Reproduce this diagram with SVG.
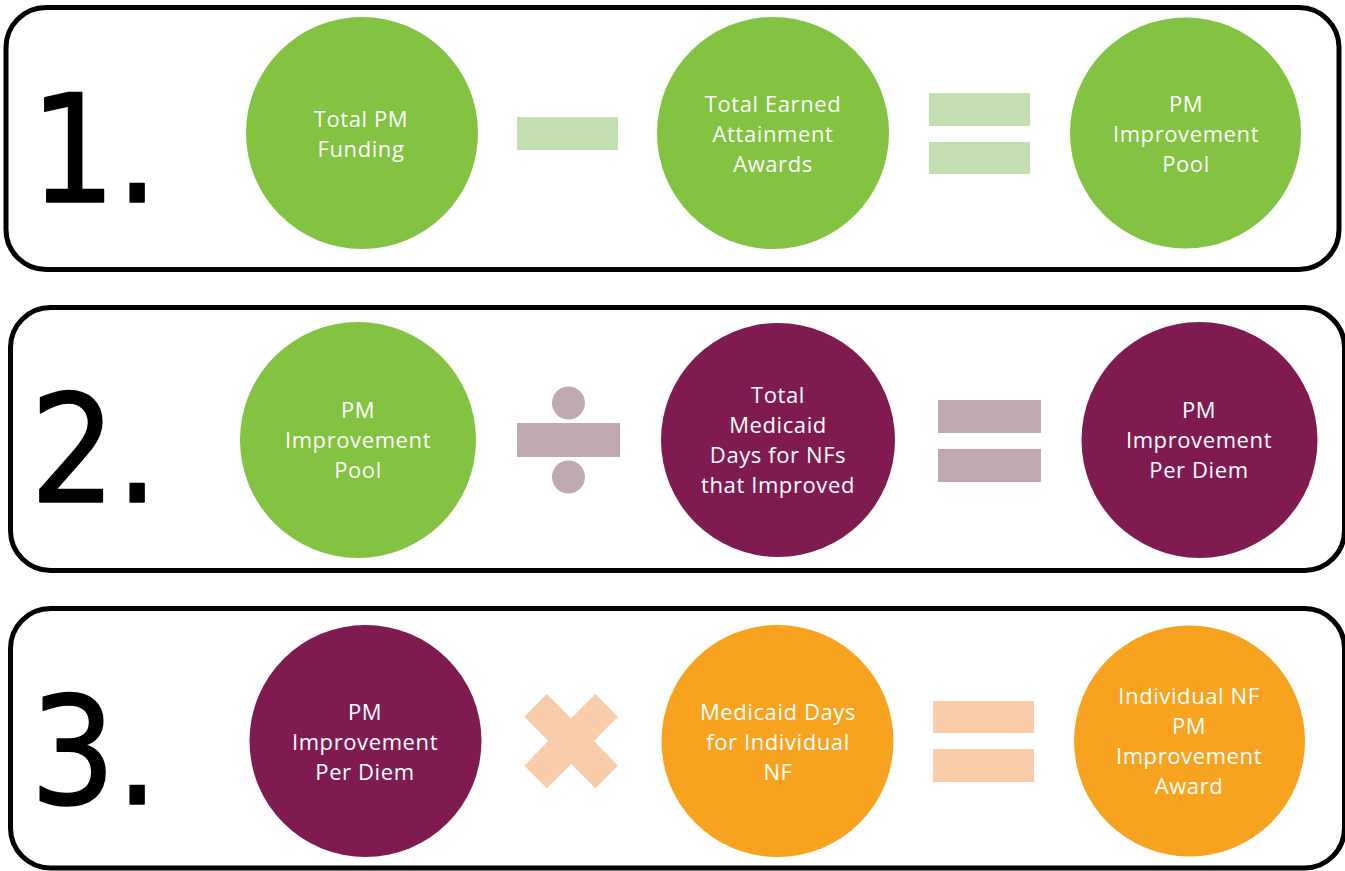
<svg xmlns="http://www.w3.org/2000/svg" width="1345" height="871" viewBox="0 0 1345 871">
<style>
.panel{fill:#fff;stroke:#000;stroke-width:5}
.num{font-family:"DejaVu Sans Condensed","DejaVu Sans",sans-serif;font-stretch:condensed;font-size:150px;fill:#000;stroke:#000;stroke-width:1.5;stroke-linejoin:round}
.lbl{font-family:"Open Sans","Noto Sans",sans-serif;font-size:22px;letter-spacing:0.6px;fill:#fff;text-anchor:middle}
.green{fill:#82C341}
.purple{fill:#801B52}
.orange{fill:#F8A31F}
.opG{fill:#C3DFB2}
.opP{fill:#BFA8B1}
.opO{fill:#FACDAA}
</style>
<rect width="1345" height="871" fill="#fff"/>
<g id="panel1">
<rect class="panel" x="6" y="7.5" width="1333" height="262" rx="40" ry="40"/>
<text class="num" x="30" y="202">1.</text>
</g>
<g id="panel2">
<rect class="panel" x="10.5" y="307.5" width="1334" height="263" rx="40" ry="40"/>
<text class="num" x="30" y="502">2.</text>
</g>
<g id="panel3">
<rect class="panel" x="10.5" y="608.5" width="1334" height="259.5" rx="40" ry="40"/>
<text class="num" x="30" y="804">3.</text>
</g>
<g id="connectors">
<rect class="opG" x="517" y="117" width="101" height="33"/>
<rect class="opG" x="929" y="93" width="101" height="33"/>
<rect class="opG" x="929" y="142" width="101" height="32"/>
<rect class="opP" x="517" y="423" width="103" height="34"/>
<circle class="opP" cx="568.5" cy="403" r="16.5"/>
<circle class="opP" cx="568.5" cy="477" r="16.5"/>
<rect class="opP" x="938" y="400" width="103" height="33"/>
<rect class="opP" x="938" y="449" width="103" height="33"/>
<polygon class="opO" points="546.8,694 571.1,718.3 595.4,694 617.9,716.7 593.9,741 617.9,765.7 595.4,788.3 571.1,764 546.8,788.3 524.3,765.7 548.2,741 524.3,716.7"/>
<rect class="opO" x="933" y="701" width="101" height="32"/>
<rect class="opO" x="933" y="749" width="101" height="33"/>
</g>
<g id="n1a">
<circle class="green" cx="362" cy="133" r="116"/>
<text class="lbl" x="361" y="127">Total PM</text>
<text class="lbl" x="361" y="157">Funding</text>
</g>
<g id="n1b">
<circle class="green" cx="773" cy="133" r="116"/>
<text class="lbl" x="773" y="112">Total Earned</text>
<text class="lbl" x="773" y="142">Attainment</text>
<text class="lbl" x="773" y="172">Awards</text>
</g>
<g id="n1c">
<circle class="green" cx="1185.5" cy="133" r="115.5"/>
<text class="lbl" x="1186" y="112">PM</text>
<text class="lbl" x="1186" y="142">Improvement</text>
<text class="lbl" x="1186" y="172">Pool</text>
</g>
<g id="n2a">
<circle class="green" cx="358" cy="440" r="118"/>
<text class="lbl" x="358" y="418">PM</text>
<text class="lbl" x="358" y="448">Improvement</text>
<text class="lbl" x="358" y="478">Pool</text>
</g>
<g id="n2b">
<circle class="purple" cx="778" cy="440" r="117"/>
<text class="lbl" x="778" y="403">Total</text>
<text class="lbl" x="778" y="433">Medicaid</text>
<text class="lbl" x="778" y="463">Days for NFs</text>
<text class="lbl" x="778" y="493">that Improved</text>
</g>
<g id="n2c">
<circle class="purple" cx="1199.5" cy="440" r="118"/>
<text class="lbl" x="1199" y="418">PM</text>
<text class="lbl" x="1199" y="448">Improvement</text>
<text class="lbl" x="1199" y="478">Per Diem</text>
</g>
<g id="n3a">
<circle class="purple" cx="365.5" cy="741" r="116"/>
<text class="lbl" x="365" y="720">PM</text>
<text class="lbl" x="365" y="750">Improvement</text>
<text class="lbl" x="365" y="780">Per Diem</text>
</g>
<g id="n3b">
<circle class="orange" cx="777.5" cy="741" r="116"/>
<text class="lbl" x="778" y="720">Medicaid Days</text>
<text class="lbl" x="778" y="750">for Individual</text>
<text class="lbl" x="778" y="780">NF</text>
</g>
<g id="n3c">
<circle class="orange" cx="1189.5" cy="741" r="115.5"/>
<text class="lbl" x="1189" y="704">Individual NF</text>
<text class="lbl" x="1189" y="734">PM</text>
<text class="lbl" x="1189" y="764">Improvement</text>
<text class="lbl" x="1189" y="794">Award</text>
</g>
</svg>
